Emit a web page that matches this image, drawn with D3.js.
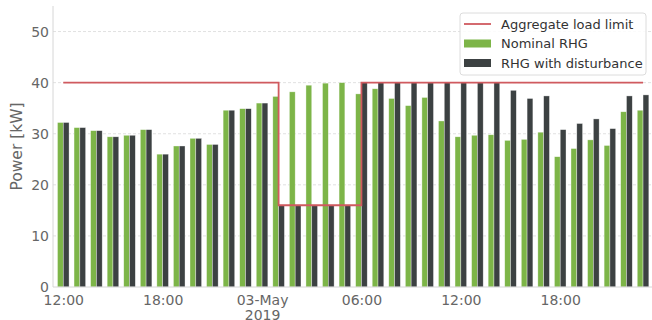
<!DOCTYPE html>
<html>
<head>
<meta charset="utf-8">
<script src="https://cdn.jsdelivr.net/npm/d3@7"></script>
<style>
  html, body { margin: 0; padding: 0; background: #fff; }
  svg { display: block; font-family: "DejaVu Sans", sans-serif; }
</style>
</head>
<body>
<svg id="chart" width="652" height="320"></svg>
<script>
// Hourly slots from 12:00 on 2 May 2019 to 23:00 on 3 May 2019
const hours = d3.range(36).map(i => new Date(2019, 4, 2, 12 + i));

// Nominal receding-horizon schedule [kW]
const nominal = [
  32.2, 31.2, 30.6, 29.4, 29.7, 30.8, 26.0, 27.6, 29.1, 27.9,
  34.6, 34.9, 36.0, 37.3, 38.2, 39.5, 39.9, 40.0, 37.8, 38.8,
  36.9, 35.5, 37.1, 32.5, 29.4, 29.7, 29.8, 28.7, 28.9, 30.3,
  25.5, 27.1, 28.8, 27.7, 34.3, 34.6
];

// Schedule when the load limit is disturbed [kW]
const disturbed = [
  32.2, 31.2, 30.6, 29.4, 29.7, 30.8, 26.0, 27.6, 29.1, 27.9,
  34.6, 34.9, 36.0, 16.0, 16.0, 16.0, 16.0, 16.0, 40.0, 40.0,
  40.0, 40.0, 40.0, 40.0, 40.0, 40.0, 40.0, 38.5, 36.9, 37.4,
  30.8, 32.0, 32.9, 31.0, 37.4, 37.6
];

// Aggregate load limit, held from each hour to the next [kW]
const limit = [
  40, 40, 40, 40, 40, 40, 40, 40, 40, 40, 40, 40, 40,
  16, 16, 16, 16, 16,
  40, 40, 40, 40, 40, 40, 40, 40, 40, 40, 40, 40, 40, 40, 40, 40, 40, 40
];

const yTicks = [0, 10, 20, 30, 40, 50];
const xTickHours = [0, 6, 12, 18, 24, 30];
const xTickLabels = [["12:00"], ["18:00"], ["03-May", "2019"], ["06:00"], ["12:00"], ["18:00"]];

const seriesNames = ["Aggregate load limit", "Nominal RHG", "RHG with disturbance"];
const colors = { limit: "#d05a5f", nominal: "#7db548", disturbed: "#3c4142" };

const svg = d3.select("#chart");
const margin = { left: 53, right: 2, top: 6, bottom: 33 };
const W = 652, H = 320;

const hourMs = 3600 * 1000;
const t0 = hours[0].getTime();
const x = d3.scaleTime()
  .domain([new Date(t0 - 0.62 * hourMs), new Date(t0 + 35.42 * hourMs)])
  .range([margin.left, W - margin.right]);
const y = d3.scaleLinear().domain([0, 55]).range([H - margin.bottom, margin.top]);

const barW = x(new Date(t0 + 0.35 * hourMs)) - x(new Date(t0));

// Horizontal dashed grid
svg.append("g")
  .selectAll("line")
  .data(yTicks.filter(d => d > 0))
  .join("line")
  .attr("x1", margin.left).attr("x2", W)
  .attr("y1", d => y(d)).attr("y2", d => y(d))
  .attr("stroke", "#d9d9d9").attr("stroke-width", 0.8)
  .attr("stroke-dasharray", "3,2");

// Bars
const bars = svg.append("g");
bars.selectAll("rect.nom")
  .data(hours)
  .join("rect")
  .attr("class", "nom")
  .attr("x", (d) => x(d) - barW)
  .attr("y", (d, i) => y(nominal[i]))
  .attr("width", barW)
  .attr("height", (d, i) => y(0) - y(nominal[i]))
  .attr("fill", colors.nominal)
  .attr("stroke", "#ffffff").attr("stroke-opacity", 0.6).attr("stroke-width", 0.6);

bars.selectAll("rect.dis")
  .data(hours)
  .join("rect")
  .attr("class", "dis")
  .attr("x", (d) => x(d))
  .attr("y", (d, i) => y(disturbed[i]))
  .attr("width", barW)
  .attr("height", (d, i) => y(0) - y(disturbed[i]))
  .attr("fill", colors.disturbed)
  .attr("stroke", "#ffffff").attr("stroke-opacity", 0.6).attr("stroke-width", 0.6);

// Load limit step line
const line = d3.line()
  .x((d, i) => x(hours[i]))
  .y(d => y(d))
  .curve(d3.curveStepAfter);
svg.append("path")
  .datum(limit)
  .attr("d", line)
  .attr("fill", "none")
  .attr("stroke", colors.limit)
  .attr("stroke-width", 1.8);

// Axes spines
svg.append("line")
  .attr("x1", margin.left).attr("x2", margin.left)
  .attr("y1", margin.top).attr("y2", y(0))
  .attr("stroke", "#d6d6d6").attr("stroke-width", 1);
svg.append("line")
  .attr("x1", margin.left).attr("x2", W)
  .attr("y1", y(0)).attr("y2", y(0))
  .attr("stroke", "#d6d6d6").attr("stroke-width", 1);

// Y axis labels
const yAxis = d3.axisLeft(y).tickValues(yTicks).tickSize(0).tickPadding(4);
const gy = svg.append("g").attr("transform", `translate(${margin.left},0)`).call(yAxis);
gy.select(".domain").remove();
gy.selectAll("text")
  .attr("font-family", "DejaVu Sans, sans-serif")
  .attr("font-size", 14).attr("fill", "#666");

// X axis labels
const xAxis = d3.axisBottom(x)
  .tickValues(xTickHours.map(h => new Date(t0 + h * hourMs)))
  .tickSize(0).tickPadding(8)
  .tickFormat("");
const gx = svg.append("g").attr("transform", `translate(0,${y(0)})`).call(xAxis);
gx.select(".domain").remove();
gx.selectAll(".tick").each(function(d, i) {
  const t = d3.select(this).select("text")
    .attr("font-family", "DejaVu Sans, sans-serif")
    .attr("font-size", 14).attr("fill", "#666");
  xTickLabels[i].forEach((s, k) => {
    t.append("tspan").attr("x", 0).attr("dy", k === 0 ? "0.71em" : "1.05em").text(s);
  });
});

// Y axis title
svg.append("text")
  .attr("transform", `translate(21.5,${(margin.top + y(0)) / 2}) rotate(-90)`)
  .attr("text-anchor", "middle")
  .attr("font-size", 15.5).attr("fill", "#666")
  .text("Power [kW]");

// Legend
const lg = svg.append("g").attr("transform", "translate(460,13)");
lg.append("rect")
  .attr("width", 186).attr("height", 62).attr("rx", 3)
  .attr("fill", "#fff").attr("fill-opacity", 0.85)
  .attr("stroke", "#dcdcdc").attr("stroke-width", 1);
const rows = [11, 30.5, 50];
lg.append("line")
  .attr("x1", 4).attr("x2", 31).attr("y1", rows[0]).attr("y2", rows[0])
  .attr("stroke", colors.limit).attr("stroke-width", 1.8);
lg.append("rect").attr("x", 4).attr("y", rows[1] - 4).attr("width", 27).attr("height", 8)
  .attr("fill", colors.nominal);
lg.append("rect").attr("x", 4).attr("y", rows[2] - 4).attr("width", 27).attr("height", 8)
  .attr("fill", colors.disturbed);
lg.selectAll("text.lab")
  .data(seriesNames)
  .join("text")
  .attr("class", "lab")
  .attr("x", 41).attr("y", (d, i) => rows[i])
  .attr("dy", "0.36em")
  .attr("font-size", 13).attr("fill", "#333")
  .text(d => d);
</script>
</body>
</html>
